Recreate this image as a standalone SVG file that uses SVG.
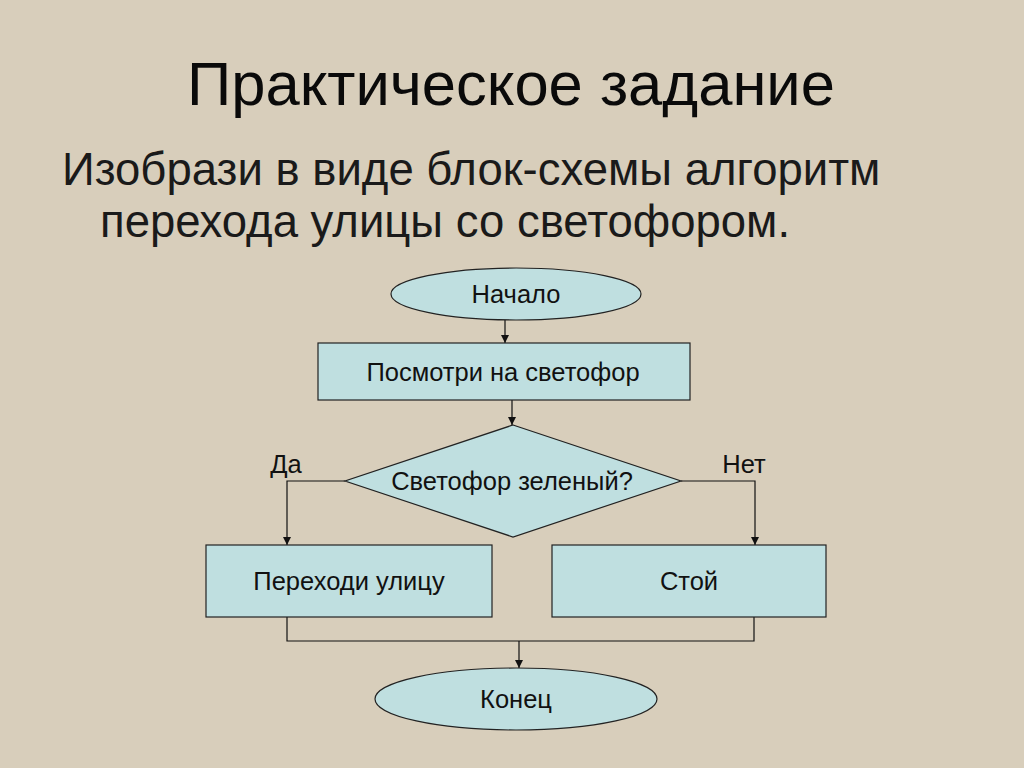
<svg xmlns="http://www.w3.org/2000/svg" width="1024" height="768" viewBox="0 0 1024 768">
<style>
.shape{fill:#bfdfe0;stroke:#222;stroke-width:1.2}
.lbl{font-family:"Liberation Sans",Arial,sans-serif;font-size:25.5px;fill:#111;text-anchor:middle}
.conn{fill:none;stroke:#111;stroke-width:1.2}
</style>
<defs>
<marker id="ah" viewBox="0 0 10 10" refX="10" refY="5" markerWidth="8" markerHeight="8" markerUnits="userSpaceOnUse" orient="auto">
<path d="M0,0 L10,5 L0,10 z" fill="#111"/>
</marker>
</defs>
<rect width="1024" height="768" fill="#d8cebb"/>
<text x="511" y="105" font-family="Liberation Sans,Arial,sans-serif" font-size="61.5" text-anchor="middle" fill="#0a0a0a">Практическое задание</text>
<text x="62" y="185" font-family="Liberation Sans,Arial,sans-serif" font-size="45.5" fill="#1a1a1a">Изобрази в виде блок-схемы алгоритм</text>
<text x="100" y="237" font-family="Liberation Sans,Arial,sans-serif" font-size="45.5" fill="#1a1a1a">перехода улицы со светофором.</text>
<g id="connectors">
<path class="conn" d="M505,320 V343" marker-end="url(#ah)"/>
<path class="conn" d="M512,400 V425" marker-end="url(#ah)"/>
<path class="conn" d="M345,481 H287 V545" marker-end="url(#ah)"/>
<path class="conn" d="M681,481 H755 V545" marker-end="url(#ah)"/>
<path class="conn" d="M287,617 V641 H754 V617"/>
<path class="conn" d="M519,641 V668" marker-end="url(#ah)"/>
<text class="lbl" x="286" y="473">Да</text>
<text class="lbl" x="744" y="473">Нет</text>
</g>
<g id="start">
<ellipse class="shape" cx="516" cy="294" rx="125" ry="26"/>
<text class="lbl" x="516" y="303">Начало</text>
</g>
<g id="look">
<rect class="shape" x="318" y="343" width="372" height="57"/>
<text class="lbl" x="503" y="381">Посмотри на светофор</text>
</g>
<g id="decision">
<polygon class="shape" points="513,425 681,481 513,537 345,481"/>
<text class="lbl" x="512" y="490">Светофор зеленый?</text>
</g>
<g id="cross">
<rect class="shape" x="206" y="545" width="286" height="72"/>
<text class="lbl" x="349" y="590">Переходи улицу</text>
</g>
<g id="stop">
<rect class="shape" x="552" y="545" width="274" height="72"/>
<text class="lbl" x="689" y="590">Стой</text>
</g>
<g id="end">
<ellipse class="shape" cx="516" cy="699" rx="141" ry="31"/>
<text class="lbl" x="516" y="708">Конец</text>
</g>
</svg>
